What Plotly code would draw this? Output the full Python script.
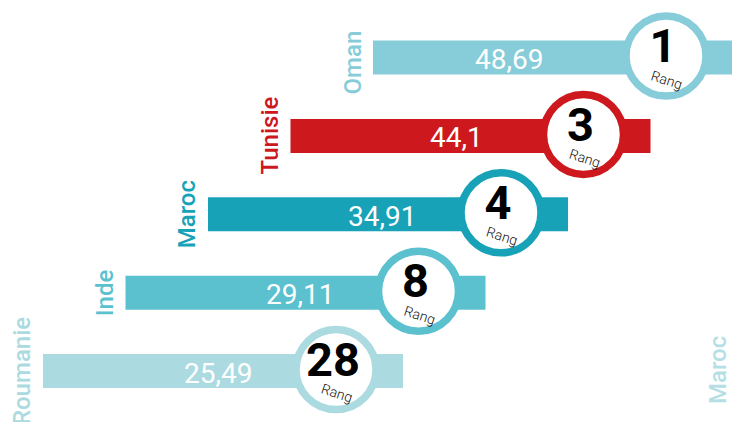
import plotly.graph_objects as go

# ---- data ----
countries = ["Oman", "Tunisie", "Maroc", "Inde", "Roumanie"]
values = [48.69, 44.1, 34.91, 29.11, 25.49]
ranks = [1, 3, 4, 8, 28]
rank_word = "Rang"
footer_label = "Maroc"

# ---- style ----
colors = ["#86CDD9", "#CD181D", "#17A2B8", "#5BC1CF", "#ABDBE0"]
footer_color = "#B5DFE5"
W, H = 732, 422
first_left, step_x = 373.0, 82.5
first_row, step_y = 57.5, 78.4
bar_len, bar_h = 360, 34
circle_dx = 293
value_dx = [136, 166, 174, 174, 175]
label_dx = -21

def fmt(v):
    s = f"{v:.2f}".rstrip("0").rstrip(".")
    return s.replace(".", ",")

n = len(countries)
lefts = [first_left - i * step_x for i in range(n)]
rows = [first_row + i * step_y for i in range(n)]
cx = [l + circle_dx for l in lefts]

fig = go.Figure()
fig.add_trace(go.Bar(
    orientation="h", y=rows, x=[bar_len] * n, base=lefts, width=bar_h,
    marker=dict(color=colors, line=dict(width=0)), hoverinfo="skip",
))
fig.add_trace(go.Scatter(
    x=cx, y=[r - 1.5 for r in rows], mode="markers",
    marker=dict(size=80, color="white", line=dict(color=colors, width=7.5)),
    hoverinfo="skip", cliponaxis=False,
))
fig.add_trace(go.Scatter(
    x=[c - 3 for c in cx], y=[r - 7 for r in rows], mode="text",
    text=[str(r) for r in ranks], textposition="middle center",
    textfont=dict(family="Roboto", size=47, color="#000000", weight="bold"),
    hoverinfo="skip", cliponaxis=False,
))

ann = []
for i in range(n):
    ann.append(dict(x=lefts[i] + value_dx[i], y=rows[i] + 2, text=fmt(values[i]),
                    xref="x", yref="y", showarrow=False, xanchor="center", yanchor="middle",
                    font=dict(family="Roboto", size=28, color="white")))
    ann.append(dict(x=cx[i] + 1, y=rows[i] + 22, text=rank_word, textangle=18,
                    xref="x", yref="y", showarrow=False, xanchor="center", yanchor="middle",
                    font=dict(family="Roboto", size=14, color="#111111", weight=300)))
    ann.append(dict(x=lefts[i] + label_dx, y=rows[i] + (5 if i == 0 else 0), text=countries[i], textangle=-90,
                    xref="x", yref="y", showarrow=False, xanchor="center", yanchor="middle",
                    font=dict(family="Roboto", size=24, color=colors[i], weight=500)))
ann.append(dict(x=718, y=370, text=footer_label, textangle=-90,
                xref="x", yref="y", showarrow=False, xanchor="center", yanchor="middle",
                font=dict(family="Roboto", size=24, color=footer_color, weight=500)))

fig.update_layout(
    width=W, height=H, margin=dict(l=0, r=0, t=0, b=0),
    paper_bgcolor="white", plot_bgcolor="white", showlegend=False,
    xaxis=dict(range=[0, W], visible=False, fixedrange=True),
    yaxis=dict(range=[H, 0], visible=False, fixedrange=True),
    annotations=ann, barmode="overlay",
)
fig.write_html("out.html")
